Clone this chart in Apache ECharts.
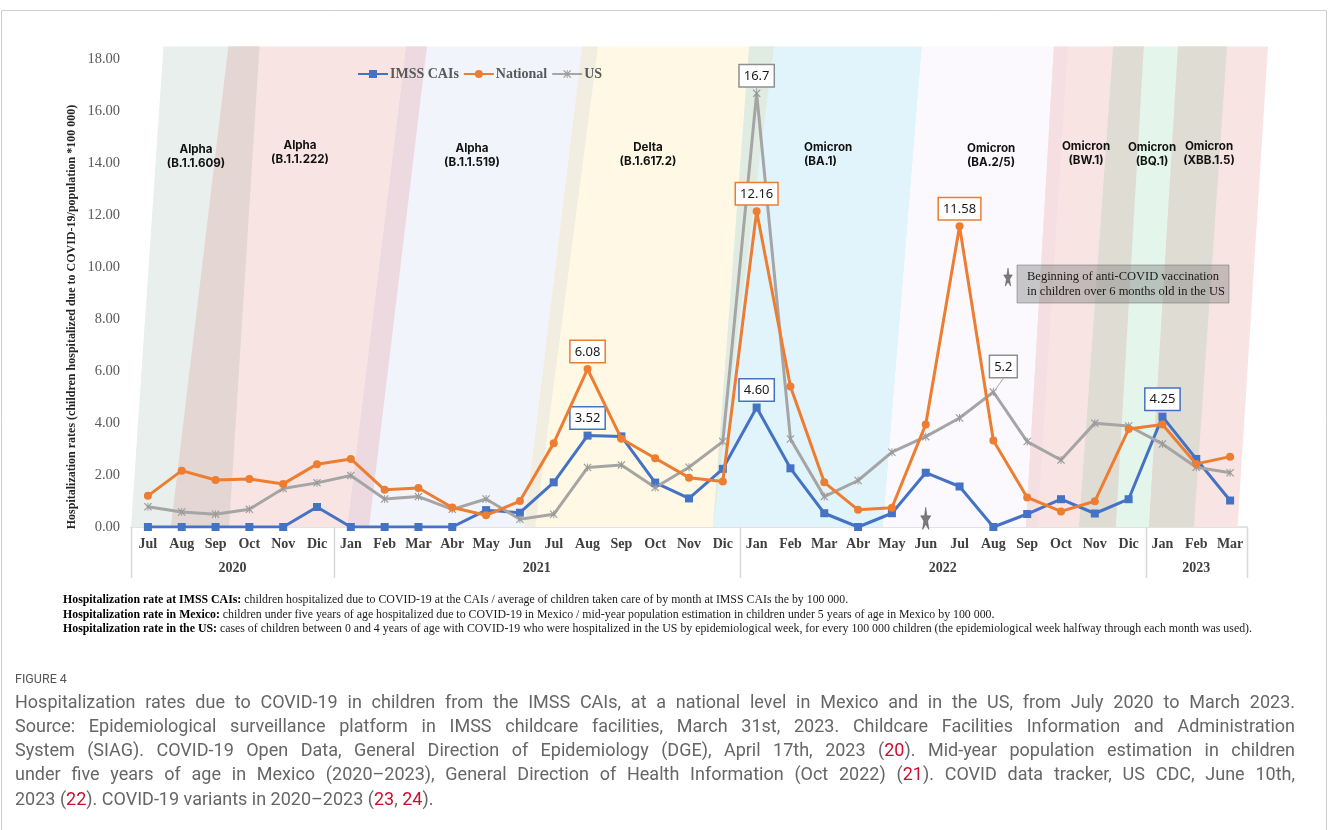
<!DOCTYPE html>
<html><head><meta charset="utf-8">
<script src="https://cdn.jsdelivr.net/npm/echarts@6/dist/echarts.min.js"></script>
<style>html,body{margin:0;padding:0;background:#fff}#c{width:1328px;height:830px}</style>
</head><body><div id="c"></div>
<script>
// ---------- data ----------
const months = ['Jul','Aug','Sep','Oct','Nov','Dic',
  'Jan','Feb','Mar','Abr','May','Jun','Jul','Aug','Sep','Oct','Nov','Dic',
  'Jan','Feb','Mar','Abr','May','Jun','Jul','Aug','Sep','Oct','Nov','Dic',
  'Jan','Feb','Mar'];
const monthYears = ['2020','2020','2020','2020','2020','2020',
  '2021','2021','2021','2021','2021','2021','2021','2021','2021','2021','2021','2021',
  '2022','2022','2022','2022','2022','2022','2022','2022','2022','2022','2022','2022',
  '2023','2023','2023'];
const yearLabels = ['2020','2021','2022','2023'];
const imss = [0,0,0,0,0,0.77, 0,0,0,0,0.65,0.55,1.72,3.52,3.49,1.71,1.10,2.24,
  4.60,2.26,0.53,0,0.53,2.09,1.56,0,0.50,1.07,0.52,1.07, 4.25,2.62,1.02];
const national = [1.20,2.17,1.81,1.85,1.66,2.42, 2.62,1.43,1.50,0.75,0.45,1.00,3.23,6.08,3.40,2.65,1.90,1.75,
  12.16,5.41,1.72,0.66,0.74,3.95,11.58,3.33,1.14,0.60,0.99,3.77, 3.95,2.43,2.71];
const us = [0.78,0.58,0.49,0.68,1.48,1.70, 1.98,1.08,1.17,0.68,1.08,0.30,0.49,2.29,2.39,1.52,2.30,3.29,
  16.70,3.39,1.17,1.79,2.88,3.48,4.20,5.20,3.29,2.58,4.00,3.89, 3.20,2.30,2.09];
const callIMSS = [13,18,30];
const callNational = [13,18,24];
const callUS = [18,25];
const vaccinationMonth = 'Jun 2022';
// variant periods in month-index units (bottom edge / top edge of slanted band)
const variantBands = [
  {bottom:[-0.5,2.40], top:[0.46,3.30]},
  {bottom:[0.68,6.54], top:[2.38,8.25]},
  {bottom:[5.89,11.45], top:[7.63,13.31]},
  {bottom:[11.12,16.71], top:[12.84,18.51]},
  {bottom:[16.71,21.74], top:[17.78,22.89]},
  {bottom:[21.74,26.30], top:[22.89,27.20]},
  {bottom:[25.96,28.62], top:[26.79,29.45]},
  {bottom:[27.53,30.93], top:[28.54,31.91]},
  {bottom:[29.60,32.22], top:[30.46,33.12]}
];
const variantNames = [
  ['Alpha','(B.1.1.609)'],['Alpha','(B.1.1.222)'],['Alpha','(B.1.1.519)'],['Delta','(B.1.617.2)'],
  ['Omicron','(BA.1)'],['Omicron','(BA.2/5)'],['Omicron','(BW.1)'],['Omicron','(BQ.1)'],['Omicron','(XBB.1.5)']
];
// ---------- styles ----------
const bandColors = ['#e8efec','#f9e4e4','#f2f4fb','#fef8e5','#e1f3fb','#fbf9fd','#f9e4e4','#e4f6ec','#f9e4e4'];
const variantLabelPos = [[196,150,'center'],[300,146,'center'],[472,149,'center'],[648,148,'center'],
  [804,148,'left'],[967,149,'left'],[1086,147,'center'],[1152,148,'center'],[1209,147,'center']];
const C_BLUE = '#4472c4', C_ORANGE = '#ed7d31', C_GRAY = '#a5a5a5';
const SERIF = '"Liberation Serif", "Times New Roman", serif';
const bandTopValue = 18.5;

function hex2rgb(h){ return [1,3,5].map(i=>parseInt(h.substr(i,2),16)); }
function multiply(a,b){ const A=hex2rgb(a),B=hex2rgb(b); return 'rgb('+A.map((v,i)=>Math.round(v*B[i]/255)).join(',')+')'; }
function starPoints(cx, cy, w, h){
  const pts=[];
  for(let k=0;k<10;k++){
    const a=-Math.PI/2+k*Math.PI/5, r=k%2?0.38:1;
    pts.push([cx+r*Math.cos(a)*w/2, cy+r*Math.sin(a)*h/2]);
  }
  return pts;
}
function starPath(){
  const p = starPoints(10,10,20,20);
  return 'path://' + p.map((q,i)=>(i?'L':'M')+q[0].toFixed(2)+','+q[1].toFixed(2)).join('') + 'Z';
}
const asteriskPath = 'path://M1,0L5,4L9,0L10,1L6,5L10,9L9,10L5,6L1,10L0,9L4,5L0,1ZM4.4,0L5.6,0L5.6,10L4.4,10Z';

const categories = months.map((m,i)=>m+' '+monthYears[i]);

function withCallouts(values, idxs, color, digits){
  return values.map((v,i)=> idxs.indexOf(i)>=0 ? {
    value:v,
    label:{show:true, position:'top', distance:3, formatter:()=>v.toFixed(digits),
      backgroundColor:'#fff', borderColor:color, borderWidth:1.5, padding:[3,4,2,4],
      fontFamily:'"Noto Sans", "Open Sans", sans-serif', fontSize:13, lineHeight:16, color:'#1a1a1a'}
  } : v);
}

// overlap of band i-1 (right edge) and band i (left edge)
function overlapPoly(api, i){
  if(i===0) return null;
  const a = variantBands[i-1], b = variantBands[i];
  const L = s => b.bottom[0] + s*(b.top[0]-b.bottom[0]);
  const R = s => a.bottom[1] + s*(a.top[1]-a.bottom[1]);
  const d0 = R(0)-L(0), d1 = R(1)-L(1);
  if(d0<=0 && d1<=0) return null;
  let s0=0, s1=1;
  if(d0<=0) s0 = d0/(d0-d1);
  if(d1<=0) s1 = d0/(d0-d1);
  const val = s => s*bandTopValue;
  return [api.coord([L(s0),val(s0)]), api.coord([R(s0),val(s0)]), api.coord([R(s1),val(s1)]), api.coord([L(s1),val(s1)])];
}

const chart = echarts.init(document.getElementById('c'), null, {renderer:'canvas'});
chart.setOption({
  animation:false,
  backgroundColor:'#fff',
  grid:{left:131, right:81, top:59.6, bottom:303},
  legend:{
    data:['IMSS CAIs','National','US'], top:62, left:352, itemWidth:30, itemHeight:10, itemGap:4,
    textStyle:{fontFamily:SERIF, fontWeight:'bold', fontSize:14, color:'#595959', padding:[0,0,0,-3]}
  },
  xAxis:[{
    type:'category', data:categories, boundaryGap:true,
    axisLine:{lineStyle:{color:'#d9d9d9', width:1.5}}, axisTick:{show:false},
    axisLabel:{interval:0, margin:10, formatter:v=>v.split(' ')[0], fontFamily:SERIF, fontWeight:'bold', fontSize:14, color:'#404040'}
  },{
    type:'value', min:-0.5, max:32.5, show:false
  }],
  yAxis:{
    type:'value', min:0, max:18, interval:2,
    axisLine:{show:false}, axisTick:{show:false}, splitLine:{show:false},
    axisLabel:{margin:11, formatter:v=>v.toFixed(2), fontFamily:SERIF, fontSize:14.5, color:'#595959'}
  },
  series:[
    {
      type:'custom', xAxisIndex:1, yAxisIndex:0, z:1, silent:true, clip:false,
      data: variantBands.map(b=>[b.bottom[0],0]),
      encode:{x:0,y:1},
      renderItem:(params, api)=>{
        const i = params.dataIndex, b = variantBands[i];
        const pts = [api.coord([b.bottom[0],0]), api.coord([b.bottom[1],0]),
                     api.coord([b.top[1],bandTopValue]), api.coord([b.top[0],bandTopValue])];
        const children = [{type:'polygon', shape:{points:pts}, style:{fill:bandColors[i]}}];
        const ov = overlapPoly(api, i);
        if(ov) children.push({type:'polygon', shape:{points:ov}, style:{fill:multiply(bandColors[i-1], bandColors[i])}});
        return {type:'group', children};
      }
    },
    {
      name:'IMSS CAIs', type:'line', z:3, data:withCallouts(imss, callIMSS, C_BLUE, 2),
      symbol:'rect', symbolSize:8, lineStyle:{width:3, color:C_BLUE}, itemStyle:{color:C_BLUE},
      emphasis:{disabled:true}
    },
    {
      name:'National', type:'line', z:4, data:withCallouts(national, callNational, C_ORANGE, 2),
      symbol:'circle', symbolSize:8, lineStyle:{width:3, color:C_ORANGE}, itemStyle:{color:C_ORANGE},
      emphasis:{disabled:true}
    },
    {
      name:'US', type:'line', z:3, data:withCallouts(us, callUS, '#8f8f8f', 1),
      symbol:asteriskPath, symbolSize:8, lineStyle:{width:3, color:C_GRAY}, itemStyle:{color:'#9a9a9a'},
      emphasis:{disabled:true},
      labelLine:{show:true, lineStyle:{color:'#a5a5a5', width:1}},
      labelLayout:(p)=> p.dataIndex===25 ? {dx:10, dy:-8} : {},
      markPoint:{
        silent:true, symbol:starPath(), symbolSize:[10,22],
        itemStyle:{color:'#7a7a7a', borderColor:'#555', borderWidth:0.5},
        label:{show:false},
        data:[{coord:[vaccinationMonth, 0.33]}]
      }
    }
  ]
});

// ---------- annotations computed from axes ----------
const px = v => chart.convertToPixel({xAxisIndex:1}, v);
const py = v => chart.convertToPixel({yAxisIndex:0}, v);
const y0 = py(0);
const g = [];
const Z = 20;
// table lines under x axis
[-0.5,5.5,17.5,29.5,32.5].forEach(v=>{
  const x = Math.round(px(v))+0.5;
  g.push({type:'line', z:Z, shape:{x1:x,y1:y0,x2:x,y2:y0+51}, style:{stroke:'#d9d9d9', lineWidth:1.5}, silent:true});
});
// year labels
const yearCenters = {};
monthYears.forEach((y,i)=>{ (yearCenters[y]=yearCenters[y]||[]).push(i); });
yearLabels.forEach(y=>{
  const idx = yearCenters[y]; const c=(idx[0]+idx[idx.length-1])/2;
  g.push({type:'text', z:Z, x:px(c), y:y0+41, style:{text:y, textAlign:'center', textVerticalAlign:'middle',
    font:'bold 14px '+SERIF, fill:'#404040'}, silent:true});
});
// y axis title
g.push({type:'text', z:Z, x:72, y:317, rotation:Math.PI/2, style:{
  text:'Hospitalization rates (children hospitalized due to COVID-19/population *100 000)',
  textAlign:'center', textVerticalAlign:'middle', font:'bold 12px '+SERIF, fill:'#262626'}, silent:true});
// variant labels
variantNames.forEach((n,i)=>{
  const p = variantLabelPos[i];
  g.push({type:'text', z:Z, x:p[0], y:p[1]+7, style:{text:n[0]+'\n'+n[1], textAlign:p[2], textVerticalAlign:'middle',
    font:'bold 11.6px Inter, "Noto Sans", sans-serif', lineHeight:14, fill:'#111'}, silent:true});
});
// vaccination note
g.push({type:'rect', z:Z, shape:{x:1017,y:265,width:212,height:38}, style:{fill:'rgba(128,128,128,0.43)', stroke:'rgba(110,110,110,0.5)', lineWidth:1}, silent:true});
g.push({type:'text', z:Z, x:1027, y:284, style:{text:'Beginning of anti-COVID vaccination\nin children over 6 months old in the US',
  textVerticalAlign:'middle', font:'12.5px '+SERIF, lineHeight:15, fill:'#1a1a1a'}, silent:true});
g.push({type:'polygon', z:Z, shape:{points:starPoints(1008,278,9,20)}, style:{fill:'#7a7a7a', stroke:'#555', lineWidth:0.5}, silent:true});
// notes
const notes = [
  '{b|Hospitalization rate at IMSS CAIs:} children hospitalized due to COVID-19 at the CAIs / average of children taken care of by month at IMSS CAIs the by 100 000.',
  '{b|Hospitalization rate in Mexico:} children under five years of age hospitalized due to COVID-19 in Mexico / mid-year population estimation in children under 5 years of age in Mexico by 100 000.',
  '{b|Hospitalization rate in the US:} cases of children between 0 and 4 years of age with COVID-19 who were hospitalized in the US by epidemiological week, for every 100 000 children (the epidemiological week halfway through each month was used).'
];
notes.forEach((t,i)=>{
  g.push({type:'text', z:Z, x:63, y:600+i*14.5, style:{text:t, textVerticalAlign:'middle', font:'11.85px '+SERIF, fill:'#1a1a1a',
    rich:{b:{font:'bold 11.85px '+SERIF, fill:'#000'}}}, silent:true});
});
// frame
g.push({type:'rect', z:Z, shape:{x:1.5,y:10.5,width:1325,height:1000}, style:{fill:'none', stroke:'#cfcfcf', lineWidth:1}, silent:true});
// caption
g.push({type:'text', z:Z, x:15, y:680, style:{text:'FIGURE 4', textVerticalAlign:'middle', font:'12.5px Roboto, sans-serif', fill:'#555'}, silent:true});
const capLines = [
  'Hospitalization rates due to COVID-19 in children from the IMSS CAIs, at a national level in Mexico and in the US, from July 2020 to March 2023.',
  'Source: Epidemiological surveillance platform in IMSS childcare facilities, March 31st, 2023. Childcare Facilities Information and Administration',
  'System (SIAG). COVID-19 Open Data, General Direction of Epidemiology (DGE), April 17th, 2023 ({r|20}). Mid-year population estimation in children',
  'under five years of age in Mexico (2020–2023), General Direction of Health Information (Oct 2022) ({r|21}). COVID data tracker, US CDC, June 10th,',
  '2023 ({r|22}). COVID-19 variants in 2020–2023 ({r|23}, {r|24}).'
];
const mctx = document.createElement('canvas').getContext('2d');
const plain = s => s.replace(/\{r\|([^}]*)\}/g,'$1');
let capSize = 16;
mctx.font = capSize+'px Roboto';
let maxW = Math.max(...capLines.slice(0,4).map(l=>mctx.measureText(plain(l)).width));
capSize = Math.min(18, capSize*1245/maxW);
const capFont = capSize.toFixed(2)+'px Roboto';
mctx.font = capFont;
const capLeft = 15, capRight = 1295;
capLines.forEach((line,li)=>{
  const y = 703 + li*24.3;
  const words = line.split(' ');
  const widths = words.map(w=>mctx.measureText(plain(w)).width);
  const total = widths.reduce((a,b)=>a+b,0);
  const justify = li < capLines.length-1;
  const gap = justify ? (capRight-capLeft-total)/(words.length-1) : mctx.measureText(' ').width;
  let x = capLeft;
  words.forEach((w,wi)=>{
    g.push({type:'text', z:Z, x:x, y:y, style:{text:w, textVerticalAlign:'middle', font:capFont, fill:'#666',
      rich:{r:{font:capFont, fill:'#c8102e'}}}, silent:true});
    x += widths[wi] + gap;
  });
});
chart.setOption({graphic:g});
</script>
</body></html>
